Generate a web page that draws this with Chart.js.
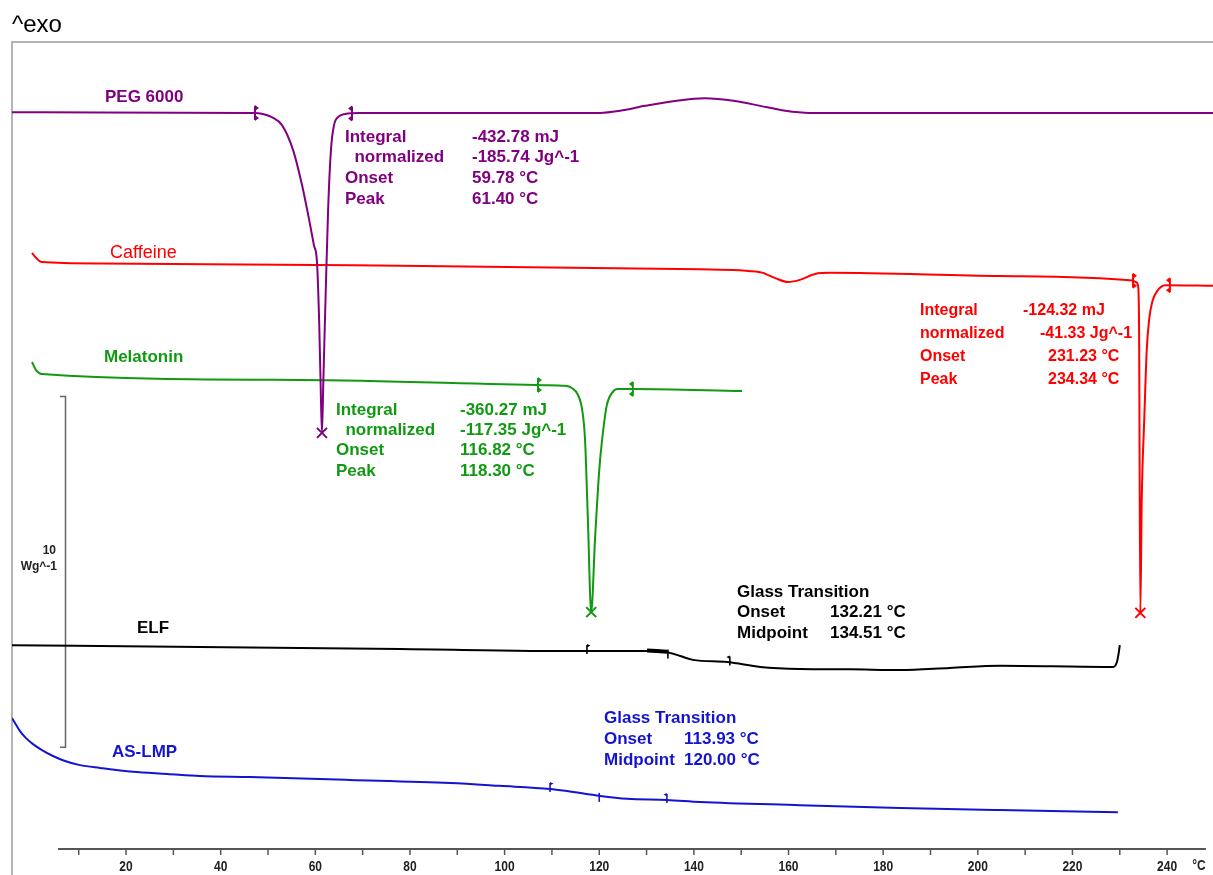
<!DOCTYPE html>
<html>
<head>
<meta charset="utf-8">
<script src="https://cdn.jsdelivr.net/npm/chart.js@4.4.1/dist/chart.umd.min.js"></script>
<style>
  html, body { margin: 0; padding: 0; background: #ffffff; }
  #wrap { width: 1213px; height: 875px; position: relative; }
</style>
</head>
<body>
<div id="wrap"><canvas id="dsc" width="1213" height="875"></canvas></div>
<script>
// DSC heat-flow curves, temperature in °C, heat flow in W/g (curves stacked with offsets)

const pegT = [-4.1, 14.5, 47.25, 48.9, 50.8, 52.96, 55.3, 57.2, 58.7, 59.7, 60.35, 60.8, 61.1, 61.40, 61.7, 62.15, 62.7, 63.3, 63.95, 64.8, 66.3, 69.4, 120.2, 124.4, 129.7, 136.0, 142.3, 148.7, 154.0, 159.3, 164.5, 249.7];
const pegV = [21.00, 20.99, 20.98, 20.95, 20.86, 20.63, 19.92, 18.92, 17.93, 17.21, 16.73, 15.08, 13.37, 11.86, 13.37, 15.65, 18.21, 19.92, 20.63, 20.86, 20.95, 20.98, 20.98, 21.04, 21.18, 21.32, 21.40, 21.32, 21.18, 21.04, 20.98, 20.98];

const cafT = [0.13, 0.97, 2.2, 14.5, 77.9, 141.3, 154.0, 157.2, 159.9, 162.4, 165.6, 168.8, 204.7, 232.74, 233.38, 233.87, 234.08, 234.34, 234.64, 235.17, 235.7, 236.2, 236.85, 237.9, 239.6, 249.7];
const cafV = [16.99, 16.85, 16.73, 16.69, 16.62, 16.52, 16.44, 16.27, 16.16, 16.22, 16.39, 16.42, 16.33, 16.20, 16.16, 16.05, 14.79, 6.73, 9.95, 12.23, 14.22, 15.08, 15.59, 15.90, 16.07, 16.05];

const melT = [0.13, 0.97, 2.2, 56.8, 108.5, 112.8, 114.2, 115.5, 116.4, 117.0, 117.6, 118.30, 119.1, 120.0, 120.6, 121.6, 122.7, 123.9, 127.1, 150.2];
const melV = [13.88, 13.65, 13.54, 13.37, 13.22, 13.20, 13.14, 12.94, 12.51, 11.66, 9.38, 6.75, 8.81, 10.80, 11.66, 12.65, 13.00, 13.11, 13.11, 13.05];

const elfT = [-4.1, 35.6, 77.9, 115.9, 130.1, 134.3, 137.1, 139.8, 147.0, 154.0, 162.4, 173.0, 183.6, 194.1, 204.7, 226.9, 228.6, 229.4, 229.8, 230.0];
const elfV = [5.81, 5.76, 5.70, 5.64, 5.64, 5.61, 5.50, 5.39, 5.33, 5.19, 5.13, 5.12, 5.10, 5.16, 5.22, 5.19, 5.19, 5.33, 5.61, 5.81];

const aslT = [-4.1, -3.47, -2.41, -1.14, 0.34, 2.24, 4.56, 7.10, 10.27, 14.49, 21.47, 28.7, 35.6, 46.2, 67.3, 88.5, 99.0, 109.6, 113.2, 120.2, 125.9, 134.3, 141.3, 162.4, 183.6, 204.7, 229.6];
const aslV = [3.73, 3.59, 3.36, 3.16, 2.99, 2.82, 2.65, 2.51, 2.39, 2.31, 2.20, 2.14, 2.08, 2.05, 1.97, 1.88, 1.80, 1.71, 1.65, 1.51, 1.43, 1.40, 1.34, 1.25, 1.17, 1.11, 1.05];

// integration limits and glass-transition construction points (°C)
const pegLimits = [47.25, 67.75];
const melLimits = [107.05, 127.1];
const cafLimits = [232.8, 240.6];
const elfGlass = [117.4, 134.51, 147.6];
const aslGlass = [109.6, 120.00, 134.3];

// x axis
const xMinorTicks = [10, 30, 50, 70, 90, 110, 130, 150, 170, 190, 210, 230];
const xTickLabels = [20, 40, 60, 80, 100, 120, 140, 160, 180, 200, 220, 240];
const xAxisStart = 5.6, xAxisEnd = 248.2;

// evaluation texts
const pegStats = [['Integral', '-432.78 mJ'], ['  normalized', '-185.74 Jg^-1'], ['Onset', '59.78 °C'], ['Peak', '61.40 °C']];
const melStats = [['Integral', '-360.27 mJ'], ['  normalized', '-117.35 Jg^-1'], ['Onset', '116.82 °C'], ['Peak', '118.30 °C']];
const cafStats = [['Integral', '-124.32 mJ'], ['normalized', '-41.33 Jg^-1'], ['Onset', '231.23 °C'], ['Peak', '234.34 °C']];
const elfStats = [['Glass Transition', ''], ['Onset', '132.21 °C'], ['Midpoint', '134.51 °C']];
const aslStats = [['Glass Transition', ''], ['Onset', '113.93 °C'], ['Midpoint', '120.00 °C']];

const COL = { peg: '#800080', caf: '#ff0000', mel: '#119a11', elf: '#000000', asl: '#1414d0' };

function pts(T, V) { return T.map((t, i) => ({ x: t, y: V[i] })); }
function interp(T, V, t) {
  for (let i = 1; i < T.length; i++) {
    if (t <= T[i]) { const f = (t - T[i - 1]) / (T[i] - T[i - 1]); return V[i - 1] + f * (V[i] - V[i - 1]); }
  }
  return V[V.length - 1];
}
function peakOf(T, V) { let k = 0; V.forEach((v, i) => { if (v < V[k]) k = i; }); return { x: T[k], y: V[k] }; }

const ds = (label, T, V, color, w) => ({
  label, data: pts(T, V), borderColor: color, borderWidth: w || 2,
  pointRadius: 0, fill: false, cubicInterpolationMode: 'monotone'
});

const FONT = '"Liberation Sans", Arial, sans-serif';

const decorations = {
  id: 'decorations',
  beforeDraw(chart) {
    const { ctx, chartArea: a } = chart;
    ctx.save();
    ctx.fillStyle = '#ffffff';
    ctx.fillRect(0, 0, chart.width, chart.height);
    // frame
    ctx.strokeStyle = '#b4b4b4';
    ctx.lineWidth = 2;
    ctx.beginPath();
    ctx.moveTo(a.left, chart.height);
    ctx.lineTo(a.left, a.top);
    ctx.lineTo(chart.width, a.top);
    ctx.stroke();
    // ^exo
    ctx.fillStyle = '#000';
    ctx.font = '24px ' + FONT;
    ctx.textBaseline = 'alphabetic';
    ctx.fillText('^exo', 12, 32);
    // scale bar 10 W/g
    const ys = chart.scales.y;
    const yTop = ys.getPixelForValue(12.9), yBot = ys.getPixelForValue(2.9);
    ctx.strokeStyle = '#666';
    ctx.lineWidth = 1.5;
    ctx.beginPath();
    ctx.moveTo(60, yTop); ctx.lineTo(65.5, yTop); ctx.lineTo(65.5, yBot); ctx.lineTo(60, yBot);
    ctx.stroke();
    ctx.fillStyle = '#222';
    ctx.font = 'bold 12px ' + FONT;
    ctx.textAlign = 'right';
    ctx.textBaseline = 'middle';
    ctx.fillText('10', 56, 551);
    ctx.fillText('Wg^-1', 57, 567);
    ctx.restore();
  },
  afterDatasetsDraw(chart) {
    const { ctx, chartArea: a } = chart;
    const xs = chart.scales.x, ys = chart.scales.y;
    const X = t => xs.getPixelForValue(t), Y = v => ys.getPixelForValue(v);
    ctx.save();

    // x axis
    ctx.strokeStyle = '#555';
    ctx.lineWidth = 2;
    ctx.beginPath();
    ctx.moveTo(X(xAxisStart), a.bottom); ctx.lineTo(X(xAxisEnd), a.bottom);
    ctx.stroke();
    ctx.lineWidth = 1.5;
    [...xMinorTicks, ...xTickLabels].forEach(t => {
      ctx.beginPath(); ctx.moveTo(X(t), a.bottom); ctx.lineTo(X(t), a.bottom + 6); ctx.stroke();
    });
    // narrow bold tick labels
    ctx.fillStyle = '#222';
    ctx.font = 'bold 15px ' + FONT;
    ctx.textAlign = 'center';
    ctx.textBaseline = 'middle';
    const sx = 0.8;
    xTickLabels.forEach(t => {
      ctx.save(); ctx.translate(X(t), 867); ctx.scale(sx, 1); ctx.fillText(String(t), 0, 0); ctx.restore();
    });
    ctx.save(); ctx.translate(1199, 866); ctx.scale(sx, 1); ctx.fillText('°C', 0, 0); ctx.restore();

    // integration limit marks
    function limitMark(x, y, dir, color) {
      ctx.strokeStyle = color; ctx.fillStyle = color; ctx.lineWidth = 2;
      ctx.beginPath(); ctx.moveTo(x, y - 7); ctx.lineTo(x, y + 7); ctx.stroke();
      [y - 5, y + 5].forEach(c => {
        ctx.beginPath(); ctx.moveTo(x, c - 3); ctx.lineTo(x + dir * 4, c); ctx.lineTo(x, c + 3); ctx.closePath(); ctx.fill();
      });
    }
    function limits(arr, T, V, color) {
      limitMark(X(arr[0]), Y(interp(T, V, arr[0])), 1, color);
      limitMark(X(arr[1]), Y(interp(T, V, arr[1])), -1, color);
    }
    limits(pegLimits, pegT, pegV, COL.peg);
    limits(melLimits, melT, melV, COL.mel);
    limits(cafLimits, cafT, cafV, COL.caf);

    // glass transition marks
    function flag(x, y, dir, color) {
      ctx.strokeStyle = color; ctx.fillStyle = color; ctx.lineWidth = 1.6;
      ctx.beginPath(); ctx.moveTo(x, y + 3); ctx.lineTo(x, y - 6); ctx.stroke();
      ctx.beginPath(); ctx.moveTo(x, y - 7); ctx.lineTo(x + dir * 3.5, y - 5.5); ctx.lineTo(x, y - 3.5); ctx.closePath(); ctx.fill();
    }
    function tick(x, y, color) {
      ctx.strokeStyle = color; ctx.lineWidth = 1.6;
      ctx.beginPath(); ctx.moveTo(x, y - 3); ctx.lineTo(x, y + 6); ctx.stroke();
    }
    function glass(arr, T, V, color) {
      flag(X(arr[0]), Y(interp(T, V, arr[0])), 1, color);
      tick(X(arr[1]), Y(interp(T, V, arr[1])), color);
      flag(X(arr[2]), Y(interp(T, V, arr[2])), -1, color);
    }
    glass(elfGlass, elfT, elfV, COL.elf);
    glass(aslGlass, aslT, aslV, COL.asl);

    // peak crosses
    function cross(p, color) {
      const x = X(p.x), y = Y(p.y), s = 5;
      ctx.strokeStyle = color; ctx.lineWidth = 2;
      ctx.beginPath();
      ctx.moveTo(x - s, y - s); ctx.lineTo(x + s, y + s);
      ctx.moveTo(x + s, y - s); ctx.lineTo(x - s, y + s);
      ctx.stroke();
    }
    cross(peakOf(pegT, pegV), COL.peg);
    cross(peakOf(melT, melV), COL.mel);
    cross(peakOf(cafT, cafV), COL.caf);

    // curve names
    ctx.textAlign = 'left';
    ctx.textBaseline = 'middle';
    const names = [['PEG 6000', 105, 97, COL.peg], ['Caffeine', 110, 253, COL.caf], ['Melatonin', 104, 357, COL.mel], ['ELF', 137, 628, COL.elf], ['AS-LMP', 112, 752, COL.asl]];
    names.forEach(([t, x, y, c]) => { ctx.fillStyle = c; ctx.font = (c === COL.caf ? '18px ' : 'bold 17px ') + FONT; ctx.fillText(t, x, y); });

    // evaluation blocks
    function block(rows, x1, x2, y0, dy, color, font) {
      ctx.fillStyle = color; ctx.font = font;
      rows.forEach((r, i) => {
        ctx.fillText(r[0], x1, y0 + i * dy);
        if (r[1]) ctx.fillText(r[1], Array.isArray(x2) ? x2[i] : x2, y0 + i * dy);
      });
    }
    const bold17 = 'bold 17px ' + FONT;
    block(pegStats, 345, 472, 137, 20.7, COL.peg, bold17);
    block(melStats, 336, 460, 410, 20.4, COL.mel, bold17);
    block(cafStats, 920, [1023, 1040, 1048, 1048], 311, 23, COL.caf, 'bold 16px ' + FONT);
    block(elfStats, 737, 830, 592, 20.5, COL.elf, bold17);
    block(aslStats, 604, 684, 718, 21, COL.asl, bold17);

    ctx.restore();
  }
};

new Chart(document.getElementById('dsc'), {
  type: 'line',
  data: {
    datasets: [
      ds('PEG 6000', pegT, pegV, COL.peg),
      ds('Caffeine', cafT, cafV, COL.caf),
      ds('Melatonin', melT, melV, COL.mel),
      ds('ELF', elfT, elfV, COL.elf),
      ds('ELF onset tangent', [130.1, 134.3], [5.655, 5.625], COL.elf, 4),
      ds('AS-LMP', aslT, aslV, COL.asl)
    ]
  },
  options: {
    responsive: false,
    devicePixelRatio: 1,
    animation: false,
    events: [],
    layout: { padding: { left: 12, top: 42, right: 0, bottom: 26 } },
    plugins: { legend: { display: false }, tooltip: { enabled: false } },
    scales: {
      x: { type: 'linear', display: false, min: -4.1, max: 249.7 },
      y: { type: 'linear', display: false, min: 0, max: 23 }
    }
  },
  plugins: [decorations]
});
</script>
</body>
</html>
